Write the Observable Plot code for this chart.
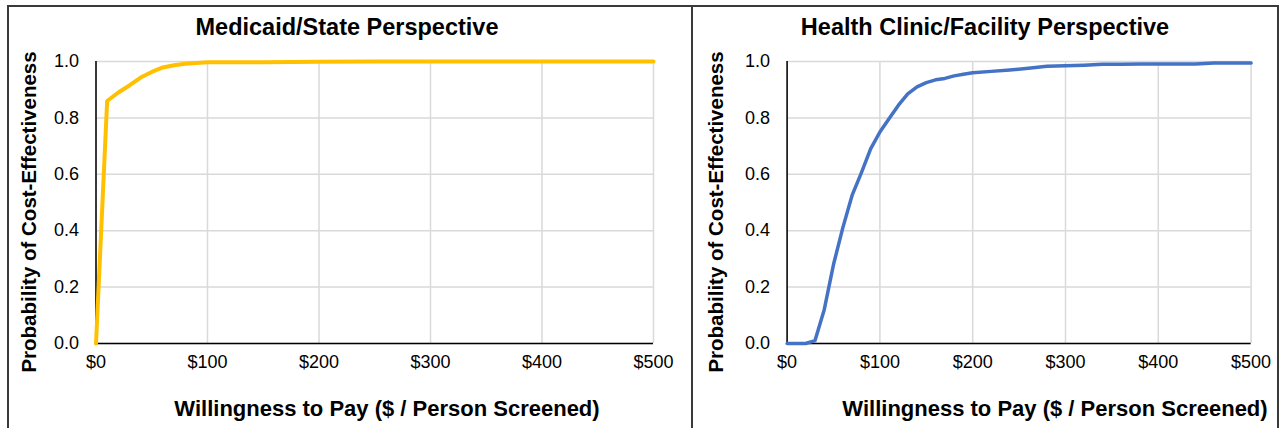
<!DOCTYPE html>
<html>
<head>
<meta charset="utf-8">
<script src="https://cdn.jsdelivr.net/npm/d3@7"></script>
<script src="https://cdn.jsdelivr.net/npm/@observablehq/plot@0.6"></script>
<style>
  html, body { margin: 0; padding: 0; background: #fff; }
  #page { position: relative; width: 1282px; height: 428px; overflow: hidden; background: #fff; font-family: "Liberation Sans", Arial, sans-serif; }
  .panel { position: absolute; border: 2px solid #3a3a3a; border-bottom: none; box-sizing: border-box; }
  .plot { position: absolute; top: 0; }
  .title { position: absolute; font-weight: bold; font-size: 23.5px; color: #000; white-space: nowrap; transform: translate(-50%, -50%); }
  .xtitle { position: absolute; font-weight: bold; font-size: 22px; color: #000; white-space: nowrap; transform: translate(-50%, -50%); }
  .ytitle { position: absolute; font-weight: bold; font-size: 20.5px; color: #000; white-space: nowrap; transform: translate(-50%, -50%) rotate(-90deg); }
</style>
</head>
<body>
<div id="page">
  <div class="panel" style="left:7px; top:5px; width:686px; height:430px;"></div>
  <div class="panel" style="left:691px; top:5px; width:588px; height:430px;"></div>
</div>
<script>
// ---- Data ----
const titles = ["Medicaid/State Perspective", "Health Clinic/Facility Perspective"];
const xTitle = "Willingness to Pay ($ / Person Screened)";
const yTitle = "Probability of Cost-Effectiveness";
const xTicks = [0, 100, 200, 300, 400, 500];
const yTicks = [0, 0.2, 0.4, 0.6, 0.8, 1.0];

const medicaidWTP  = [0, 10, 20, 30, 40, 50, 60, 70, 80, 90, 100, 150, 200, 250, 300, 350, 400, 450, 500];
const medicaidProb = [0, 0.86, 0.89, 0.915, 0.943, 0.963, 0.979, 0.987, 0.992, 0.995, 0.997, 0.997, 0.999, 1.0, 1.0, 1.0, 1.0, 1.0, 1.0];

const clinicWTP  = [0, 10, 20, 30, 40, 50, 60, 70, 80, 90, 100, 110, 120, 130, 140, 150, 160, 170, 180, 190, 200, 220, 240, 260, 280, 300, 320, 340, 360, 380, 400, 420, 440, 460, 480, 500];
const clinicProb = [0, 0, 0, 0.01, 0.12, 0.28, 0.41, 0.525, 0.605, 0.69, 0.75, 0.798, 0.845, 0.885, 0.91, 0.925, 0.935, 0.94, 0.949, 0.955, 0.96, 0.965, 0.97, 0.976, 0.983, 0.985, 0.987, 0.99, 0.99, 0.991, 0.991, 0.991, 0.991, 0.995, 0.995, 0.995];

const colors = ["#FFC000", "#4472C4"];
const widths = [4, 3.5];

// ---- Layout ----
const panels = [
  {left: 0, width: 692, ml: 95.5, mr: 39, x: medicaidWTP, y: medicaidProb, title: [347, 27], xt: [387, 409], yt: [29, 212]},
  {left: 692, width: 590, ml: 94.6, mr: 31.4, x: clinicWTP, y: clinicProb, title: [985, 27], xt: [1055, 409], yt: [716, 212]}
];

const page = document.getElementById("page");

panels.forEach((p, i) => {
  const data = p.x.map((v, j) => ({wtp: v, prob: p.y[j]}));
  const chart = Plot.plot({
    width: p.width,
    height: 428,
    marginLeft: p.ml,
    marginRight: p.mr,
    marginTop: 61,
    marginBottom: 85,
    style: {fontFamily: "'Liberation Sans', Arial, sans-serif", fontSize: "18px", color: "#000", background: "transparent"},
    x: {domain: [0, 500], ticks: xTicks, tickFormat: d => "$" + d},
    y: {domain: [0, 1], ticks: yTicks, tickFormat: d3.format(".1f")},
    marks: [
      Plot.gridX(xTicks, {stroke: "#d9d9d9", strokeOpacity: 1, strokeWidth: 1.5}),
      Plot.gridY(yTicks, {stroke: "#d9d9d9", strokeOpacity: 1, strokeWidth: 1.5}),
      Plot.axisX({ticks: xTicks, tickFormat: d => "$" + d, tickSize: 0, tickPadding: 12, label: null, fontSize: 18}),
      Plot.axisY({ticks: yTicks, tickFormat: d3.format(".1f"), tickSize: 0, tickPadding: 17, label: null, fontSize: 18}),
      Plot.ruleX([0], {stroke: "#000", strokeWidth: 1.5}),
      Plot.ruleY([0], {stroke: "#000", strokeWidth: 1.5}),
      Plot.line(data, {x: "wtp", y: "prob", stroke: colors[i], strokeWidth: widths[i], strokeLinejoin: "round", strokeLinecap: "round"})
    ]
  });
  chart.classList.add("plot");
  chart.style.left = p.left + "px";
  page.appendChild(chart);

  const t = document.createElement("div");
  t.className = "title";
  t.textContent = titles[i];
  t.style.left = p.title[0] + "px"; t.style.top = p.title[1] + "px";
  page.appendChild(t);

  const xt = document.createElement("div");
  xt.className = "xtitle";
  xt.textContent = xTitle;
  xt.style.left = p.xt[0] + "px"; xt.style.top = p.xt[1] + "px";
  page.appendChild(xt);

  const yt = document.createElement("div");
  yt.className = "ytitle";
  yt.textContent = yTitle;
  yt.style.left = p.yt[0] + "px"; yt.style.top = p.yt[1] + "px";
  page.appendChild(yt);
});
</script>
</body>
</html>
